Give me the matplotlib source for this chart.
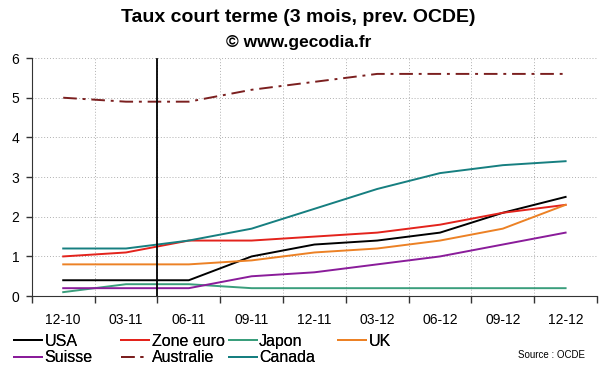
import matplotlib
matplotlib.use('Agg')
import matplotlib.pyplot as plt

plt.rcParams['font.family'] = ['Liberation Sans', 'DejaVu Sans']

periods = ['12-10', '03-11', '06-11', '09-11', '12-11', '03-12', '06-12', '09-12', '12-12']

usa = [0.4, 0.4, 0.4, 1.0, 1.3, 1.4, 1.6, 2.1, 2.5]
zone_euro = [1.0, 1.1, 1.4, 1.4, 1.5, 1.6, 1.8, 2.1, 2.3]
japon = [0.1, 0.3, 0.3, 0.2, 0.2, 0.2, 0.2, 0.2, 0.2]
uk = [0.8, 0.8, 0.8, 0.9, 1.1, 1.2, 1.4, 1.7, 2.3]
suisse = [0.2, 0.2, 0.2, 0.5, 0.6, 0.8, 1.0, 1.3, 1.6]
australie = [5.0, 4.9, 4.9, 5.2, 5.4, 5.6, 5.6, 5.6, 5.6]
canada = [1.2, 1.2, 1.4, 1.7, 2.2, 2.7, 3.1, 3.3, 3.4]

series = [
    ('USA', usa, '#000000', '-'),
    ('Zone euro', zone_euro, '#e3231c', '-'),
    ('Japon', japon, '#3a9e7c', '-'),
    ('UK', uk, '#ec8125', '-'),
    ('Suisse', suisse, '#8a1c9a', '-'),
    ('Australie', australie, '#7b1f1f', (0, (7, 3, 1.5, 3))),
    ('Canada', canada, '#167f80', '-'),
]

fig = plt.figure(figsize=(6, 3.72), dpi=100)
ax = fig.add_axes([0.053, 0.204, 0.942, 0.64])

x = list(range(len(periods)))
handles = []
for name, vals, col, ls in series:
    h, = ax.plot(x, vals, color=col, linestyle=ls, lw=1.4, label=name)
    handles.append(h)

# vertical separator (start of forecast)
ax.axvline(1.5, color='black', lw=1.3, ymax=0.995)

ax.set_xlim(-0.5, len(periods) - 0.5)
ax.set_ylim(0, 6)
ax.set_xticks([i - 0.5 for i in range(len(periods) + 1)])
ax.set_xticklabels([])
ax.set_xticks(x, minor=True)
ax.set_xticklabels(periods, minor=True, fontsize=10)
ax.tick_params(axis='x', which='major', length=5, width=1, color='#333333')
ax.tick_params(axis='x', which='minor', length=0, pad=12)
ax.set_yticks(range(7))
ax.tick_params(axis='y', length=4, width=1, labelsize=10, color='#333333', pad=5)

ax.grid(True, which='major', linestyle=(0, (1, 2)), color='#b0b0b0', lw=0.7)
ax.spines['top'].set_visible(False)
ax.spines['right'].set_visible(False)
ax.spines['left'].set_color('#333333')
ax.spines['bottom'].set_color('#333333')

fig.text(0.497, 0.952, 'Taux court terme (3 mois, prev. OCDE)', ha='center', va='center',
         fontsize=14, fontweight='bold')
fig.text(0.497, 0.885, '\u00a9 www.gecodia.fr', ha='center', va='center',
         fontsize=12.5, fontweight='bold')

# legend: 4 columns, manually placed
col_x = [0.024, 0.202, 0.381, 0.564]
for j in range(4):
    hs = [handles[j]] + ([handles[j + 4]] if j + 4 < len(handles) else [])
    leg = fig.legend(handles=hs, loc='upper left', bbox_to_anchor=(col_x[j], 0.103),
                     frameon=False, fontsize=11.5, handlelength=1.75, handletextpad=0.15,
                     labelspacing=0.1, borderpad=0, borderaxespad=0)
    fig.add_artist(leg)

fig.text(0.975, 0.045, 'Source : OCDE', ha='right', va='center', fontsize=7)

fig.savefig('out.png', dpi=100)
